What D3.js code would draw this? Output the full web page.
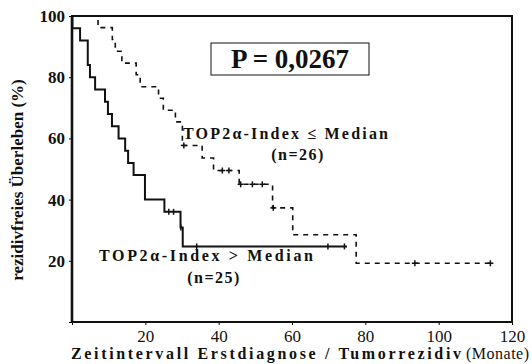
<!DOCTYPE html>
<html>
<head>
<meta charset="utf-8">
<script src="https://cdn.jsdelivr.net/npm/d3@7"></script>
<style>
  body { margin: 0; background: #fff; }
  text { font-family: "Liberation Serif", "Times New Roman", serif; fill: #111; }
</style>
</head>
<body>
<div class="km"></div>
<script>
// Kaplan-Meier: rezidivfreies Ueberleben nach TOP2alpha-Index
var xTicks = [0, 20, 40, 60, 80, 100, 120];
var yTicks = [0, 20, 40, 60, 80, 100];

// TOP2a-Index > Median (n=25), solid
var highTimes = [0, 0.1, 2.2, 4.3, 4.9, 6.3, 9.0, 9.8, 10.9, 12.7, 14.5, 15.3, 16.8, 19.9, 25.2, 29.6, 30.2, 75];
var highSurv  = [100, 96, 92, 84, 80, 76, 72, 68, 64, 60, 56, 52, 48, 40, 36, 30.9, 24.7, 24.7];
var highCensor = [26.4, 27.7, 29.7, 34, 69.8, 74.3];

// TOP2a-Index <= Median (n=26), dashed
var lowTimes = [0, 7.1, 11.0, 11.8, 13.6, 17.5, 18.6, 23.6, 24.9, 28.2, 30.1, 35.5, 38.6, 45.6, 54.7, 60.2, 77.5, 114.1];
var lowSurv  = [100, 96.2, 92.3, 88.5, 84.6, 80.8, 76.9, 73.1, 69.2, 65.4, 57.7, 53.6, 49.5, 45, 37.3, 28.5, 19.2, 19.2];
var lowCensor = [30.5, 41.0, 42.8, 46.0, 49.2, 51.9, 54.9, 93.5, 114.1];

var svgWidth = 532;
var svgHeight = 364;
var margin = { top: 16, right: 20, bottom: 42, left: 72 };
var width = svgWidth - margin.left - margin.right;
var height = svgHeight - margin.top - margin.bottom;

var svg = d3.select(".km")
  .append("svg")
  .attr("width", svgWidth)
  .attr("height", svgHeight);

var chartGroup = svg.append("g")
  .attr("transform", `translate(${margin.left}, ${margin.top})`);

var xScale = d3.scaleLinear().domain([0, 120]).range([0, width]);
var yScale = d3.scaleLinear().domain([0, 100]).range([height, 0]);

// survival value at time t (step function)
function survAt(times, surv, t) {
  var s = surv[0];
  for (var i = 0; i < times.length; i++) {
    if (times[i] <= t) s = surv[i];
  }
  return s;
}

// axes
var bottomAxis = d3.axisBottom(xScale)
  .tickValues(xTicks)
  .tickSize(3)
  .tickPadding(5)
  .tickFormat(d => d === 0 ? "" : d);
var leftAxis = d3.axisLeft(yScale)
  .tickValues(yTicks)
  .tickSize(3)
  .tickPadding(4)
  .tickFormat(d => d === 0 ? "" : d);

var xAxisG = chartGroup.append("g")
  .attr("transform", `translate(0, ${height})`)
  .call(bottomAxis);
xAxisG.select(".domain").remove();
xAxisG.selectAll("text")
  .style("font-family", "Liberation Serif")
  .style("font-size", "17px")
  .attr("fill", "#111");

var yAxisG = chartGroup.append("g").call(leftAxis);
yAxisG.select(".domain").remove();
yAxisG.selectAll("text")
  .style("font-family", "Liberation Serif")
  .style("font-size", "17px")
  .style("font-weight", "bold")
  .attr("fill", "#111");

// frame
chartGroup.append("rect")
  .attr("x", 0)
  .attr("y", 0)
  .attr("width", width)
  .attr("height", height)
  .attr("fill", "none")
  .attr("stroke", "#111")
  .attr("stroke-width", 2);
chartGroup.append("line")
  .attr("x1", 0).attr("x2", 0)
  .attr("y1", 0).attr("y2", height)
  .attr("stroke", "#111")
  .attr("stroke-width", 2.6);

// curves
var stepLine = d3.line()
  .x(d => xScale(d[0]))
  .y(d => yScale(d[1]))
  .curve(d3.curveStepAfter);

chartGroup.append("path")
  .datum(d3.zip(lowTimes, lowSurv))
  .attr("d", stepLine)
  .attr("fill", "none")
  .attr("stroke", "#111")
  .attr("stroke-width", 1.6)
  .attr("stroke-dasharray", "5,5");

chartGroup.append("path")
  .datum(d3.zip(highTimes, highSurv))
  .attr("d", stepLine)
  .attr("fill", "none")
  .attr("stroke", "#111")
  .attr("stroke-width", 2);

// censor marks
chartGroup.selectAll(".cens-high")
  .data(highCensor)
  .enter()
  .append("line")
  .attr("class", "cens-high")
  .attr("x1", d => xScale(d)).attr("x2", d => xScale(d))
  .attr("y1", d => yScale(survAt(highTimes, highSurv, d)) - 3)
  .attr("y2", d => yScale(survAt(highTimes, highSurv, d)) + 3)
  .attr("stroke", "#111")
  .attr("stroke-width", 1.5);

chartGroup.selectAll(".cens-low")
  .data(lowCensor)
  .enter()
  .append("line")
  .attr("class", "cens-low")
  .attr("x1", d => xScale(d)).attr("x2", d => xScale(d))
  .attr("y1", d => yScale(survAt(lowTimes, lowSurv, d)) - 3)
  .attr("y2", d => yScale(survAt(lowTimes, lowSurv, d)) + 3)
  .attr("stroke", "#111")
  .attr("stroke-width", 1.5);
chartGroup.selectAll(".cens-low-h")
  .data(lowCensor)
  .enter()
  .append("line")
  .attr("class", "cens-low-h")
  .attr("x1", d => xScale(d) - 3).attr("x2", d => xScale(d) + 3)
  .attr("y1", d => yScale(survAt(lowTimes, lowSurv, d)))
  .attr("y2", d => yScale(survAt(lowTimes, lowSurv, d)))
  .attr("stroke", "#111")
  .attr("stroke-width", 1.5);

// p-value box
chartGroup.append("rect")
  .attr("x", 139)
  .attr("y", 27)
  .attr("width", 158)
  .attr("height", 32)
  .attr("fill", "#fff")
  .attr("stroke", "#111")
  .attr("stroke-width", 1);
chartGroup.append("text")
  .attr("x", 218)
  .attr("y", 52)
  .attr("text-anchor", "middle")
  .style("font-size", "27px")
  .style("font-weight", "bold")
  .text("P = 0,0267");

// group labels
chartGroup.append("text")
  .attr("x", 111)
  .attr("y", 123)
  .attr("textLength", 205)
  .attr("lengthAdjust", "spacing")
  .style("font-size", "16px")
  .style("font-weight", "bold")
  .text("TOP2α-Index ≤ Median");
chartGroup.append("text")
  .attr("x", 226)
  .attr("y", 144)
  .attr("text-anchor", "middle")
  .style("font-size", "16px")
  .style("font-weight", "bold")
  .style("letter-spacing", "1.5px")
  .text("(n=26)");

chartGroup.append("text")
  .attr("x", 27)
  .attr("y", 245)
  .attr("textLength", 214)
  .attr("lengthAdjust", "spacing")
  .style("font-size", "16px")
  .style("font-weight", "bold")
  .text("TOP2α-Index > Median");
chartGroup.append("text")
  .attr("x", 142)
  .attr("y", 267)
  .attr("text-anchor", "middle")
  .style("font-size", "16px")
  .style("font-weight", "bold")
  .style("letter-spacing", "1.5px")
  .text("(n=25)");

// axis titles
svg.append("text")
  .attr("x", 71)
  .attr("y", 359)
  .attr("textLength", 390)
  .attr("lengthAdjust", "spacing")
  .style("font-size", "16px")
  .style("font-weight", "bold")
  .text("Zeitintervall Erstdiagnose / Tumorrezidiv");
svg.append("text")
  .attr("x", 466)
  .attr("y", 359)
  .attr("textLength", 63)
  .attr("lengthAdjust", "spacing")
  .style("font-size", "16px")
  .text("(Monate)");

svg.append("text")
  .attr("transform", "translate(23, 180) rotate(-90)")
  .attr("text-anchor", "middle")
  .style("font-size", "17px")
  .style("font-weight", "bold")
  .text("rezidivfreies Überleben (%)");
</script>
</body>
</html>
